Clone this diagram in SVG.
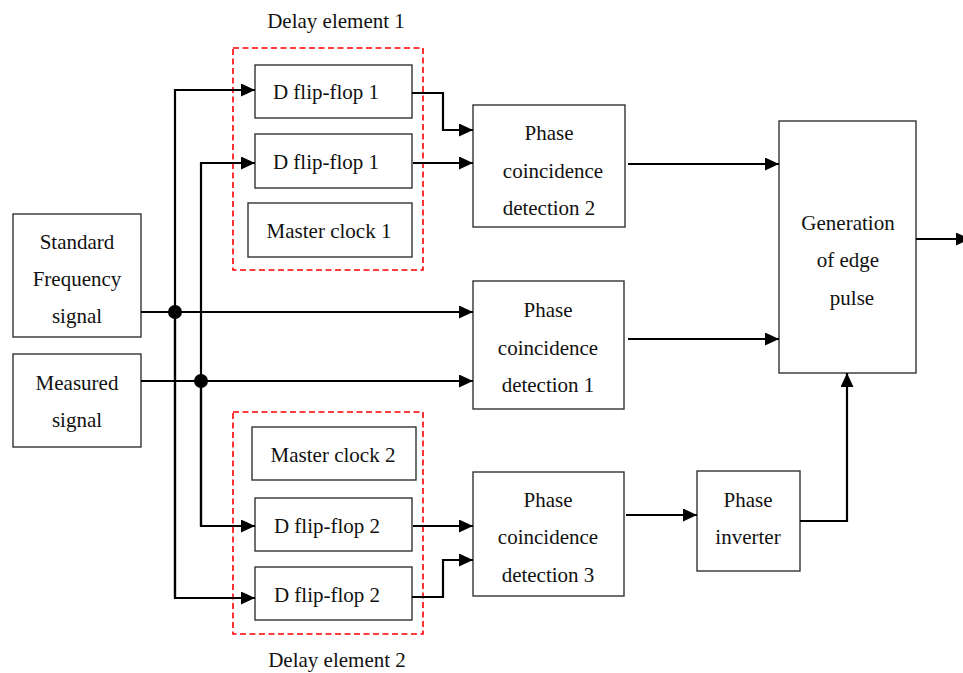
<svg xmlns="http://www.w3.org/2000/svg" width="963" height="673" viewBox="0 0 963 673">
<defs>
<style>
.box{fill:#fff;stroke:#333;stroke-width:1.4}
.grp{fill:none;stroke:#f00;stroke-width:1.6;stroke-dasharray:6 3.5}
.t{font-family:"Liberation Serif","Times New Roman",serif;font-size:21px;fill:#111;text-anchor:middle}
.w{fill:none;stroke:#000;stroke-width:2.2}
.a{marker-end:url(#ah)}
</style>
<marker id="ah" markerUnits="userSpaceOnUse" markerWidth="15" markerHeight="14" refX="14" refY="6.5" orient="auto">
<path d="M0,0 L14,6.5 L0,13 z" fill="#000"/>
</marker>
</defs>
<rect width="963" height="673" fill="#fff"/>

<g id="delay1">
<rect class="grp" x="233" y="48" width="190" height="222"/>
<text class="t" x="336" y="28">Delay element 1</text>
</g>
<g id="delay2">
<rect class="grp" x="233" y="412" width="190" height="222"/>
<text class="t" x="337" y="667">Delay element 2</text>
</g>

<g id="std">
<rect class="box" x="13" y="214" width="128" height="123"/>
<text class="t" x="77" y="249">Standard</text>
<text class="t" x="77" y="286">Frequency</text>
<text class="t" x="77" y="323">signal</text>
</g>
<g id="meas">
<rect class="box" x="13" y="354" width="128" height="93"/>
<text class="t" x="77" y="390">Measured</text>
<text class="t" x="77" y="427">signal</text>
</g>

<g id="dff1a">
<rect class="box" x="255" y="65" width="157" height="53"/>
<text class="t" x="326" y="99">D flip-flop 1</text>
</g>
<g id="dff1b">
<rect class="box" x="255" y="134" width="157" height="54"/>
<text class="t" x="326" y="169">D flip-flop 1</text>
</g>
<g id="mc1">
<rect class="box" x="248" y="203" width="164" height="54"/>
<text class="t" x="329" y="238">Master clock 1</text>
</g>
<g id="mc2">
<rect class="box" x="252" y="427" width="164" height="53"/>
<text class="t" x="333" y="462">Master clock 2</text>
</g>
<g id="dff2a">
<rect class="box" x="255" y="498" width="157" height="53"/>
<text class="t" x="327" y="533">D flip-flop 2</text>
</g>
<g id="dff2b">
<rect class="box" x="255" y="567" width="157" height="53"/>
<text class="t" x="327" y="602">D flip-flop 2</text>
</g>

<g id="pc2">
<rect class="box" x="473" y="105" width="152" height="122"/>
<text class="t" x="549" y="140">Phase</text>
<text class="t" x="553" y="178">coincidence</text>
<text class="t" x="549" y="215">detection 2</text>
</g>
<g id="pc1">
<rect class="box" x="473" y="281" width="151" height="128"/>
<text class="t" x="548" y="317">Phase</text>
<text class="t" x="548" y="355">coincidence</text>
<text class="t" x="548" y="392">detection 1</text>
</g>
<g id="pc3">
<rect class="box" x="473" y="472" width="151" height="124"/>
<text class="t" x="548" y="507">Phase</text>
<text class="t" x="548" y="544">coincidence</text>
<text class="t" x="548" y="582">detection 3</text>
</g>
<g id="inv">
<rect class="box" x="697" y="471" width="103" height="100"/>
<text class="t" x="748" y="507">Phase</text>
<text class="t" x="748" y="544">inverter</text>
</g>
<g id="gen">
<rect class="box" x="779" y="121" width="137" height="252"/>
<text class="t" x="848" y="230">Generation</text>
<text class="t" x="848" y="267">of edge</text>
<text class="t" x="852" y="305">pulse</text>
</g>

<g id="connectors">
<path class="w" d="M141,312 L175,312"/>
<path class="w a" d="M175,312 L473,312"/>
<path class="w a" d="M175,598 L175,90 L255,90"/>
<path class="w a" d="M175,312 L175,598 L255,598"/>
<path class="w" d="M141,381 L201,381"/>
<path class="w a" d="M201,381 L473,381"/>
<path class="w a" d="M201,526 L201,163 L255,163"/>
<path class="w a" d="M201,381 L201,526 L255,526"/>
<path class="w a" d="M412,93 L443,93 L443,130 L473,130"/>
<path class="w a" d="M413,163 L473,163"/>
<path class="w a" d="M413,526 L473,526"/>
<path class="w a" d="M412,597 L443,597 L443,560 L473,560"/>
<path class="w a" d="M628,164 L779,164"/>
<path class="w a" d="M628,339 L779,339"/>
<path class="w a" d="M626,515 L697,515"/>
<path class="w a" d="M800,521 L847,521 L847,373"/>
<path class="w a" d="M916,239 L970,239"/>
<circle cx="175" cy="312" r="7" fill="#000"/>
<circle cx="201" cy="381" r="7" fill="#000"/>
</g>
</svg>
